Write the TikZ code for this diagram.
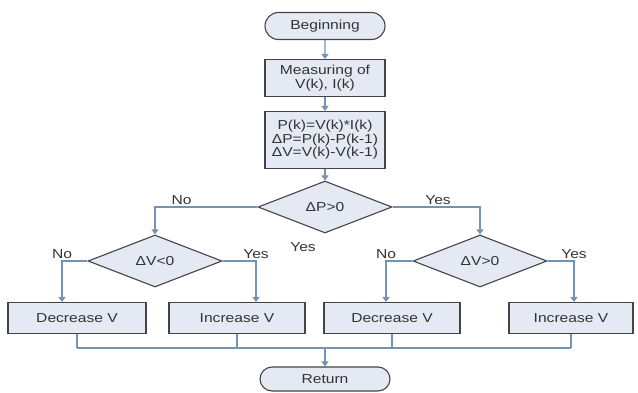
\documentclass[tikz,border=0pt]{standalone}
\usepackage{fontspec}
\setmainfont{Liberation Sans}[FakeStretch=1.2]
\usetikzlibrary{shapes.geometric,shapes.misc,arrows.meta}

\definecolor{boxfill}{HTML}{E4E9F4}
\definecolor{boxline}{HTML}{444444}
\definecolor{flowline}{HTML}{7393B3}

\tikzstyle{txt} = [font=\fontsize{13}{13.5}\selectfont, text=black!80]
\tikzstyle{block} = [txt, rectangle, draw=boxline, line width=1.1pt, fill=boxfill, align=center, inner sep=2pt]
\tikzstyle{terminal} = [block, rounded rectangle]
\tikzstyle{decision} = [block, diamond, inner sep=0pt, minimum width=134pt, minimum height=52pt]
\tikzstyle{answer} = [txt, inner sep=2pt]
\tikzstyle{flow} = [draw=flowline, line width=1.2pt]
\tikzstyle{arrowdecorate} = [flow, -{Triangle[width=7pt,length=5pt]}]

\begin{document}
\begin{tikzpicture}[x=1pt,y=-1pt]
    \useasboundingbox (0,0) rectangle (638,392);
    %% main column
    \node[terminal, minimum width=124pt, minimum height=27pt] (begin) at (325,26) {Beginning};
    \node[block, minimum width=120pt, minimum height=37pt] (measure) at (325,78) {Measuring of\\V(k), I(k)};
    \node[block, minimum width=120pt, minimum height=57pt] (calc) at (325,140)
      {P(k)=V(k)*I(k)\\ΔP=P(k)-P(k-1)\\ΔV=V(k)-V(k-1)};
    %% decisions
    \foreach \nodename/\lab/\x/\y in {
      dp/ΔP>0/325/207,
      dvl/ΔV<0/155/261,
      dvr/ΔV>0/480/261}
    {
      \node[decision] (\nodename) at (\x,\y) {\lab};
    }
    %% actions
    \foreach \nodename/\lab/\x/\w in {
      dec1/Decrease V/77/138,
      inc1/Increase V/237/136,
      dec2/Decrease V/392/136,
      inc2/Increase V/571/124}
    {
      \node[block, minimum width=\w pt, minimum height=31pt] (\nodename) at (\x,318) {\lab};
    }
    \node[terminal, minimum width=134pt, minimum height=24pt] (ret) at (325,379) {Return};
    \node[answer] (dpyes) at (303,247) {Yes};
    \coordinate (join) at (325,348);
    %edges or lines
    \foreach \startnode/\endnode in {begin/measure, measure/calc, calc/dp}
      \draw[arrowdecorate] (\startnode) -- (\endnode);
    \draw[arrowdecorate] (dp.west) -| node[answer, pos=0.37, above] {No} (dvl.north);
    \draw[arrowdecorate] (dp.east) -| node[answer, pos=0.26, above] {Yes} (dvr.north);
    \foreach \startnode/\side/\endnode/\shift/\lab in {
      dvl/west/dec1/-15/No, dvl/east/inc1/19/Yes,
      dvr/west/dec2/-6/No, dvr/east/inc2/3/Yes}
    {
      \draw[arrowdecorate] (\startnode.\side) -| node[answer, pos=0.5, above] {\lab} ([xshift=\shift pt]\endnode.north);
    }
    \foreach \nodename in {dec1, inc1, dec2, inc2}
      \draw[flow] (\nodename.south) -- (\nodename.south |- join);
    \draw[flow] (dec1.south |- join) -- (inc2.south |- join);
    \draw[arrowdecorate] (join) -- (ret);
\end{tikzpicture}
\end{document}
